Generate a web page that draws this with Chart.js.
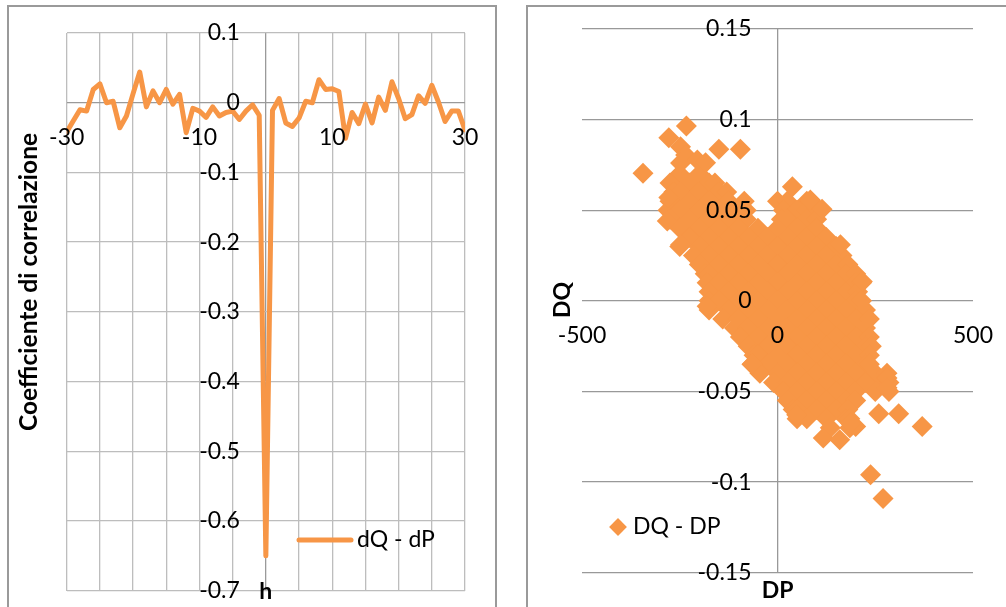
<!DOCTYPE html>
<html>
<head>
<meta charset="utf-8">
<script src="https://cdn.jsdelivr.net/npm/chart.js@4.4.1/dist/chart.umd.min.js"></script>
<style>
  body { margin: 0; background: #fff; width: 1006px; height: 607px; overflow: hidden; position: relative; }
  .box { position: absolute; top: 5px; height: 640px; border: 2px solid #9a9a9a; box-sizing: border-box; }
  #boxL { left: 7px; width: 490px; }
  #boxR { left: 526px; width: 520px; }
  canvas { position: absolute; top: 0; }
  #cL { left: 0; }
  #cR { left: 500px; }
</style>
</head>
<body>
<div class="box" id="boxL"></div>
<div class="box" id="boxR"></div>
<canvas id="cL" width="500" height="607"></canvas>
<canvas id="cR" width="506" height="607"></canvas>
<script>
// --- grafico di sinistra: correlazione dQ - dP per ritardo h
const lags = [-30,-29,-28,-27,-26,-25,-24,-23,-22,-21,-20,-19,-18,-17,-16,-15,-14,-13,-12,-11,
  -10,-9,-8,-7,-6,-5,-4,-3,-2,-1,0,1,2,3,4,5,6,7,8,9,10,11,12,13,14,15,16,17,18,19,20,
  21,22,23,24,25,26,27,28,29,30]
const corrValues = [-0.042,-0.026,-0.010,-0.012,0.019,0.027,0.000,0.002,-0.036,-0.019,
  0.013,0.044,-0.006,0.017,0.000,0.019,-0.002,0.012,-0.043,-0.008,
  -0.012,-0.021,-0.006,-0.019,-0.014,-0.012,-0.024,-0.012,-0.003,-0.018,
  -0.650,-0.011,0.006,-0.029,-0.034,-0.022,0.002,0.000,0.033,0.019,0.020,
  0.016,-0.051,-0.014,-0.030,-0.002,-0.029,0.008,-0.011,0.030,0.006,
  -0.023,-0.017,0.010,-0.001,0.025,0.001,-0.027,-0.012,-0.012,-0.039]
const lagTickLabels  = [-30, -10, 10, 30]
const corrTickLabels = [0.1, 0, -0.1, -0.2, -0.3, -0.4, -0.5, -0.6, -0.7]

// --- grafico di destra: DQ contro DP (righe della nuvola + punti isolati)
const bandDQ = [0.070, 0.065, 0.060, 0.055, 0.050, 0.045, 0.040, 0.035, 0.030, 0.025, 0.020,
  0.015, 0.010, 0.005, 0.000, -0.005, -0.010, -0.015, -0.020, -0.025, -0.030, -0.035,
  -0.040, -0.045, -0.050, -0.055, -0.060, -0.065, -0.070]
const bandDP = [
  [-250, -200],
  [-275, -225, -175, -160],
  [-265, -250, -200, -150, -130],
  [-275, -225, -175, -125, -85, 0, 25, 75, 85],
  [-280, -250, -200, -150, -100, -80, 15, 50, 75],
  [-275, -225, -175, -125, -80, 10, 25, 75, 100],
  [-250, -200, -150, -100, -50, 0, 50, 100],
  [-225, -175, -125, -75, -25, 25, 75, 125],
  [-250, -200, -150, -100, -50, 0, 50, 100, 150],
  [-215, -175, -125, -75, -25, 25, 75, 125, 165],
  [-200, -150, -100, -50, 0, 50, 100, 150, 180],
  [-185, -175, -125, -75, -25, 25, 75, 125, 175, 200],
  [-180, -150, -100, -50, 0, 50, 100, 150, 200, 215],
  [-175, -125, -75, -25, 25, 75, 125, 175, 205],
  [-175, -150, -100, -50, 0, 50, 100, 150, 200, 215],
  [-175, -125, -75, -25, 25, 75, 125, 175, 225],
  [-140, -100, -50, 0, 50, 100, 150, 200, 235],
  [-110, -75, -25, 25, 75, 125, 175, 225],
  [-95, -50, 0, 50, 100, 150, 200, 235],
  [-75, -25, 25, 75, 125, 175, 225, 240],
  [-60, -50, 0, 50, 100, 150, 200, 235],
  [-65, -25, 25, 75, 125, 175, 225, 235],
  [-45, 0, 50, 100, 150, 200, 250, 280],
  [-10, 25, 75, 125, 175, 225, 275, 285],
  [15, 50, 100, 150, 200, 250, 285],
  [25, 75, 125, 175, 200],
  [40, 50, 100, 150, 180],
  [50, 75, 125, 175, 185],
  [135, 185],
]
const outlierDP = [-233, -278, -248, -235, -205, -184, -248, -150, -95, -344, -278, -282, -248,
  38, 84, 114, 161, 217, -180, -65, 280, 280, 259, 310, 370, 200, 187, 117, 159, 49, 238, 270]
const outlierDQ = [0.0965, 0.090, 0.085, 0.0805, 0.0777, 0.0762, 0.076, 0.0836, 0.0836, 0.0704, 0.057, 0.044, 0.031,
  0.063, 0.0557, 0.0505, 0.031, 0.0107, -0.003, -0.035, -0.0426, -0.048, -0.0623, -0.0623, -0.0693, -0.0693, -0.0675,
  -0.0757, -0.0766, -0.0628, -0.096, -0.109]
const dpTickLabels = [-500, 0, 500]
const dqTickLabels = [0.15, 0.1, 0.05, 0, -0.05, -0.1, -0.15]

const ORANGE = '#F79646'
const FONT = 'Lato, sans-serif'

// etichette sugli assi incrociati in 0, titoli e legenda disegnati sopra i dati
const crossAxes = {
  id: 'crossAxes',
  afterDatasetsDraw(chart, args, o) {
    const { ctx, chartArea, scales: { x, y } } = chart
    const x0 = x.getPixelForValue(0)
    const y0 = y.getPixelForValue(0)
    const ds = chart.data.datasets[0]
    ctx.save()
    ctx.fillStyle = '#000'
    ctx.font = `23px ${FONT}`
    ctx.textBaseline = 'middle'
    ctx.textAlign = 'right'
    o.yTicks.forEach(v => ctx.fillText(String(v), x0 - 26, y.getPixelForValue(v)))
    ctx.textAlign = 'center'
    o.xTicks.forEach(v => ctx.fillText(String(v), x.getPixelForValue(v), y0 + 35))

    ctx.font = `bold 23px ${FONT}`
    ctx.fillText(o.xTitle, x0, chartArea.bottom + o.xTitleDy)
    ctx.save()
    ctx.font = `bold ${o.yTitleSize}px ${FONT}`
    ctx.translate(o.yTitleX, o.yTitleY)
    ctx.rotate(-Math.PI / 2)
    ctx.fillText(o.yTitle, 0, 0)
    ctx.restore()

    // legenda
    const lg = o.legend
    ctx.fillStyle = ORANGE
    ctx.strokeStyle = ORANGE
    if (lg.line) {
      ctx.lineWidth = ds.borderWidth
      ctx.lineCap = 'round'
      ctx.beginPath()
      ctx.moveTo(lg.x, lg.y)
      ctx.lineTo(lg.x + 52, lg.y)
      ctx.stroke()
    } else {
      Chart.helpers.drawPoint(ctx, { pointStyle: 'rectRot', radius: 8.7, borderWidth: 0 }, lg.x, lg.y)
      ctx.fill()
    }
    ctx.fillStyle = '#000'
    ctx.font = `23px ${FONT}`
    ctx.textAlign = 'left'
    ctx.fillText(ds.label, lg.textX, lg.y)
    ctx.restore()
  }
}

const isZero = v => Math.abs(v) < 1e-9

new Chart(document.getElementById('cL'), {
  type: 'scatter',
  data: {
    datasets: [{
      label: 'dQ - dP',
      data: lags.map((h, i) => ({ x: h, y: corrValues[i] })),
      showLine: true,
      borderColor: ORANGE,
      backgroundColor: ORANGE,
      borderWidth: 5,
      borderJoinStyle: 'round',
      borderCapStyle: 'round',
      pointRadius: 0,
      pointHoverRadius: 0,
    }],
  },
  options: {
    responsive: false,
    animation: false,
    layout: { padding: { left: 66.7, right: 35, top: 33, bottom: 16.3 } },
    plugins: {
      legend: { display: false },
      tooltip: { enabled: false },
      crossAxes: {
        xTicks: lagTickLabels, yTicks: corrTickLabels,
        xTitle: 'h', xTitleDy: 1,
        yTitle: 'Coefficiente di correlazione', yTitleSize: 24.5, yTitleX: 29, yTitleY: 282,
        legend: { line: true, x: 299, y: 540, textX: 357 },
      },
    },
    scales: {
      x: {
        min: -30, max: 30,
        ticks: { display: false, stepSize: 5 },
        grid: { drawTicks: false, lineWidth: 1.3, color: c => isZero(c.tick.value) ? '#9a9a9a' : '#bdbdbd' },
        border: { display: false },
      },
      y: {
        min: -0.7, max: 0.1,
        ticks: { display: false, stepSize: 0.1 },
        grid: { drawTicks: false, lineWidth: 1.3, color: c => isZero(c.tick.value) ? '#9a9a9a' : '#bdbdbd' },
        border: { display: false },
      },
    },
  },
  plugins: [crossAxes],
})

const scatterData = []
bandDQ.forEach((dq, r) => bandDP[r].forEach(dp => scatterData.push({ x: dp, y: dq })))
outlierDP.forEach((dp, i) => scatterData.push({ x: dp, y: outlierDQ[i] }))

new Chart(document.getElementById('cR'), {
  type: 'scatter',
  data: {
    datasets: [{
      label: 'DQ - DP',
      data: scatterData,
      pointStyle: 'rectRot',
      pointRadius: 10.5,
      pointHoverRadius: 10.5,
      backgroundColor: ORANGE,
      borderWidth: 0,
    }],
  },
  options: {
    responsive: false,
    animation: false,
    layout: { padding: { left: 82, right: 33, top: 29, bottom: 34.3 } },
    plugins: {
      legend: { display: false },
      tooltip: { enabled: false },
      crossAxes: {
        xTicks: dpTickLabels, yTicks: dqTickLabels,
        xTitle: 'DP', xTitleDy: 18,
        yTitle: 'DQ', yTitleSize: 23, yTitleX: 63, yTitleY: 300,
        legend: { line: false, x: 118, y: 527, textX: 133 },
      },
    },
    scales: {
      x: {
        min: -500, max: 500,
        ticks: { display: false, stepSize: 500 },
        grid: { drawTicks: false, lineWidth: 1.3, color: c => isZero(c.tick.value) ? '#999999' : 'rgba(0,0,0,0)' },
        border: { display: false },
      },
      y: {
        min: -0.15, max: 0.15,
        ticks: { display: false, stepSize: 0.05 },
        grid: { drawTicks: false, lineWidth: 1.3, color: '#999999' },
        border: { display: false },
      },
    },
  },
  plugins: [crossAxes],
})
</script>
</body>
</html>
